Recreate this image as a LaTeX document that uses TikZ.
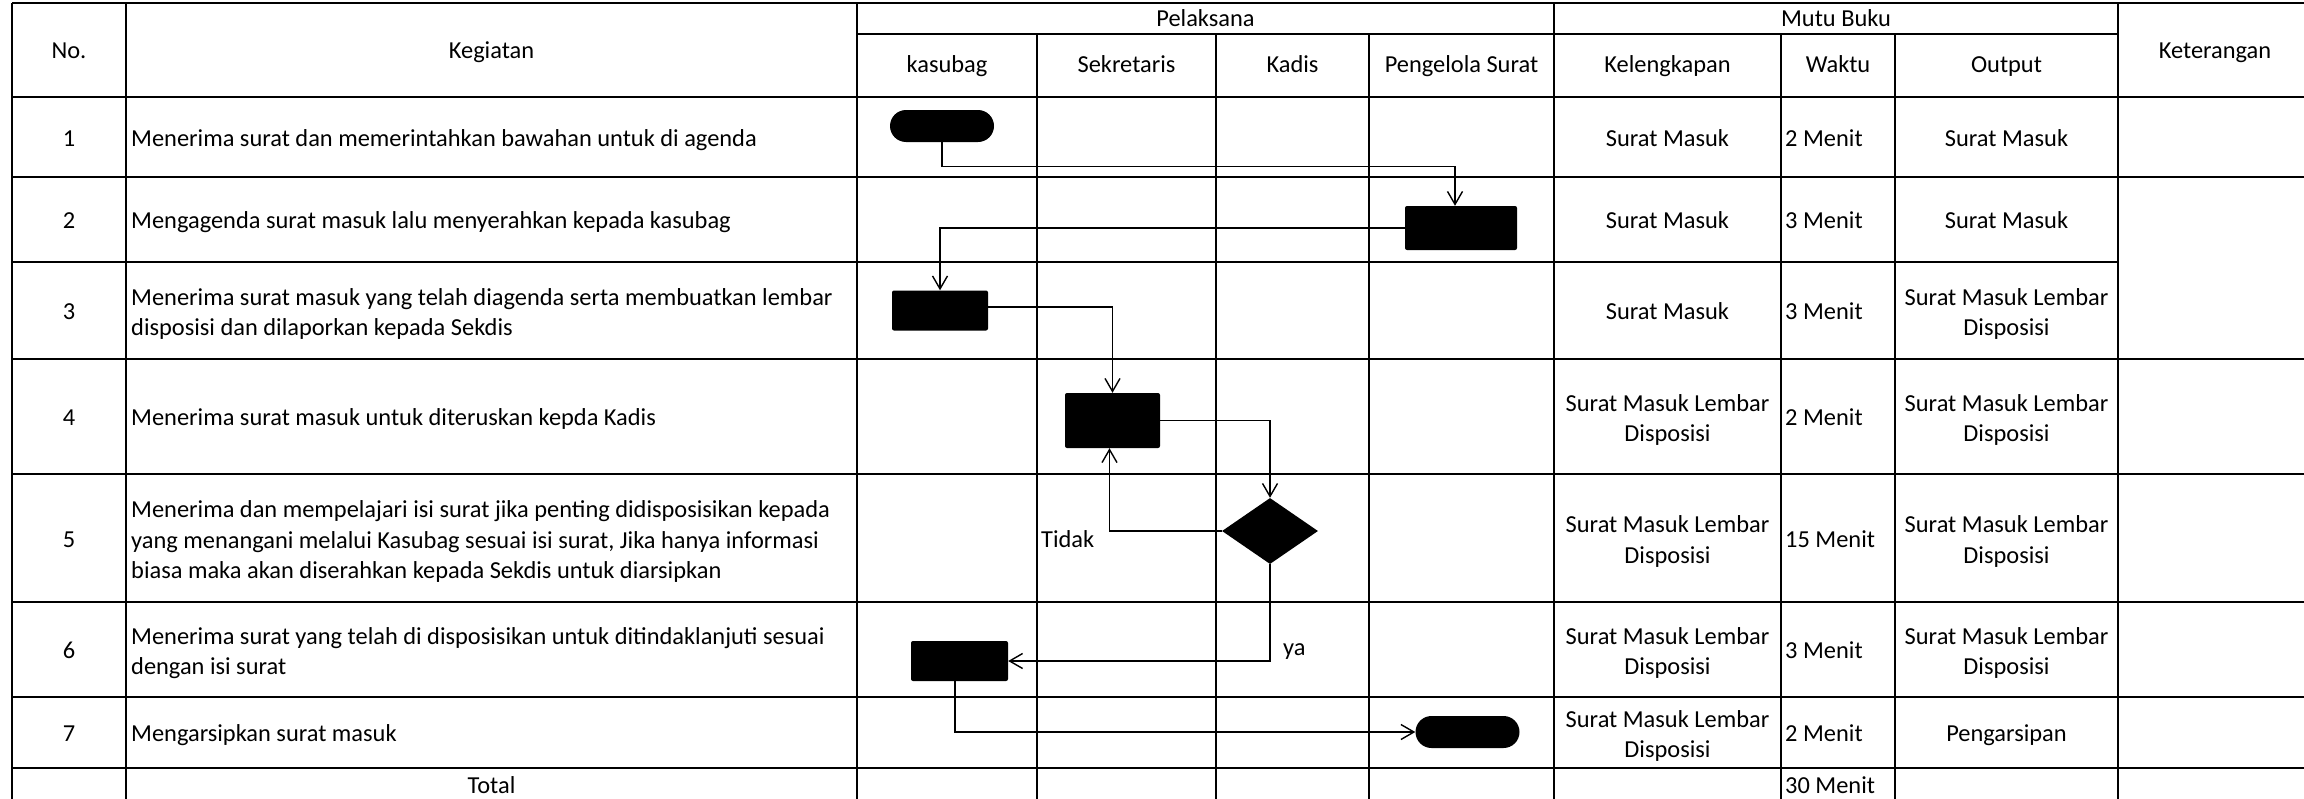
\documentclass[tikz,border=0pt]{standalone}
\usepackage{fontspec}
\setmainfont{Carlito}
\usetikzlibrary{arrows.meta,shapes.geometric}
\begin{document}
\begin{tikzpicture}[x=1pt,y=-1pt,
  tbl/.style={line width=2.2pt},
  cell/.style={font=\fontsize{24.4}{30.5}\selectfont, inner sep=0pt, text height=18.5pt, text depth=0pt},
  mcell/.style={font=\fontsize{24.4}{30.5}\selectfont, inner sep=0pt, align=center, yshift=-3.5pt},
  lcell/.style={font=\fontsize{24.4}{30.5}\selectfont, inner sep=0pt, align=left, anchor=west, yshift=-3.5pt},
  term/.style={fill=black, rounded corners=16pt, minimum width=104pt, minimum height=32pt, inner sep=0pt},
  proc/.style={fill=black, rounded corners=2pt, inner sep=0pt},
  decis/.style={diamond, fill=black, inner sep=0pt, minimum width=96pt, minimum height=66pt},
  flow/.style={line width=1.4pt, -{Straight Barb[length=13pt,width=15pt]}}
]
\useasboundingbox (0,0) rectangle (2304,798);
\fill[white] (0,0) rectangle (2304,798);

% ---------- table grid ----------
\draw[tbl] (12,3) -- (2310,3);
\draw[tbl] (857,34) -- (2118,34);
\foreach \yy in {97,177,359,474,602,697,768} \draw[tbl] (12,\yy) -- (2310,\yy);
\draw[tbl] (12,262) -- (2118,262);
\foreach \xx in {12,126,857,1554,2118} \draw[tbl] (\xx,3) -- (\xx,800);
\foreach \xx in {1037,1216,1369,1781,1895} \draw[tbl] (\xx,34) -- (\xx,800);

% ---------- header ----------
\node[cell] (hNo) at (69,49.5) {No.};
\node[cell] (hKeg) at (491.5,49.5) {Kegiatan};
\node[cell] (hPel) at (1205.5,17) {Pelaksana};
\node[cell] (hKas) at (947,63.5) {kasubag};
\node[cell] (hSek) at (1126.5,63.5) {Sekretaris};
\node[cell] (hKad) at (1292.5,63.5) {Kadis};
\node[cell] (hPen) at (1461.5,63.5) {Pengelola Surat};
\node[cell] (hMut) at (1836,17) {Mutu Buku};
\node[cell] (hKel) at (1667.5,63.5) {Kelengkapan};
\node[cell] (hWak) at (1838,63.5) {Waktu};
\node[cell] (hOut) at (2006.5,63.5) {Output};
\node[cell] (hKet) at (2215,49.5) {Keterangan};

% ---------- numbers ----------
\node[cell] (n1) at (69,137) {1};
\node[cell] (n2) at (69,219.5) {2};
\node[cell] (n3) at (69,310.5) {3};
\node[cell] (n4) at (69,416.5) {4};
\node[cell] (n5) at (69,538) {5};
\node[cell] (n6) at (69,649.5) {6};
\node[cell] (n7) at (69,732.5) {7};

% ---------- kegiatan ----------
\node[cell,anchor=west] (k1) at (131,137) {Menerima surat dan memerintahkan bawahan untuk di agenda};
\node[cell,anchor=west] (k2) at (131,219.5) {Mengagenda surat masuk lalu menyerahkan kepada kasubag};
\node[lcell] (k3) at (131,310.5) {Menerima surat masuk yang telah diagenda serta membuatkan lembar\\disposisi dan dilaporkan kepada Sekdis};
\node[cell,anchor=west] (k4) at (131,416.5) {Menerima surat masuk untuk diteruskan kepda Kadis};
\node[lcell] (k5) at (131,538) {Menerima dan mempelajari isi surat jika penting didisposisikan kepada\\yang menangani melalui Kasubag sesuai isi surat, Jika hanya informasi\\biasa maka akan diserahkan kepada Sekdis untuk diarsipkan};
\node[lcell] (k6) at (131,649.5) {Menerima surat yang telah di disposisikan untuk ditindaklanjuti sesuai\\dengan isi surat};
\node[cell,anchor=west] (k7) at (131,732.5) {Mengarsipkan surat masuk};
\node[cell] (tot) at (491.5,784) {Total};

% ---------- kelengkapan ----------
\node[cell] (l1) at (1667.5,137) {Surat Masuk};
\node[cell] (l2) at (1667.5,219.5) {Surat Masuk};
\node[cell] (l3) at (1667.5,310.5) {Surat Masuk};
\node[mcell] (l4) at (1667.5,416.5) {Surat Masuk Lembar\\Disposisi};
\node[mcell] (l5) at (1667.5,538) {Surat Masuk Lembar\\Disposisi};
\node[mcell] (l6) at (1667.5,649.5) {Surat Masuk Lembar\\Disposisi};
\node[mcell] (l7) at (1667.5,732.5) {Surat Masuk Lembar\\Disposisi};

% ---------- waktu ----------
\node[cell,anchor=west] (w1) at (1785,137) {2 Menit};
\node[cell,anchor=west] (w2) at (1785,219.5) {3 Menit};
\node[cell,anchor=west] (w3) at (1785,310.5) {3 Menit};
\node[cell,anchor=west] (w4) at (1785,416.5) {2 Menit};
\node[cell,anchor=west] (w5) at (1785,538) {15 Menit};
\node[cell,anchor=west] (w6) at (1785,649.5) {3 Menit};
\node[cell,anchor=west] (w7) at (1785,732.5) {2 Menit};
\node[cell,anchor=west] (wt) at (1785,784) {30 Menit};

% ---------- output ----------
\node[cell] (o1) at (2006.5,137) {Surat Masuk};
\node[cell] (o2) at (2006.5,219.5) {Surat Masuk};
\node[mcell] (o3) at (2006.5,310.5) {Surat Masuk Lembar\\Disposisi};
\node[mcell] (o4) at (2006.5,416.5) {Surat Masuk Lembar\\Disposisi};
\node[mcell] (o5) at (2006.5,538) {Surat Masuk Lembar\\Disposisi};
\node[mcell] (o6) at (2006.5,649.5) {Surat Masuk Lembar\\Disposisi};
\node[cell] (o7) at (2006.5,732.5) {Pengarsipan};

% ---------- flowchart ----------
\node[term] (start) at (942,126) {};
\node[proc, minimum width=112pt, minimum height=44pt] (p2) at (1461,228) {};
\node[proc, minimum width=96pt, minimum height=40pt] (p3) at (940,310.5) {};
\node[proc, minimum width=95pt, minimum height=55pt] (p4) at (1112.5,420.5) {};
\node[decis] (dec) at (1270,531) {};
\node[proc, minimum width=97pt, minimum height=40pt] (p6) at (959.5,661) {};
\node[term] (stop) at (1467.5,732) {};

\draw[flow] (start.south) -- ++(0,24) -| ([xshift=-6pt]p2.north);
\draw[flow] (p2.west) -| (p3.north);
\draw[flow] ([yshift=3.5pt]p3.east) -| (p4.north);
\draw[flow] (p4.east) -| (dec.north);
\draw[flow] (dec.west) -| ([xshift=-3pt]p4.south);
\draw[flow] (dec.south) |- (p6.east);
\draw[flow] ([xshift=-4.5pt]p6.south) |- (stop.west);

\node[cell,anchor=west] (tidak) at (1041,538) {Tidak};
\node[cell,anchor=west] (ya) at (1283,646) {ya};
\end{tikzpicture}
\end{document}
